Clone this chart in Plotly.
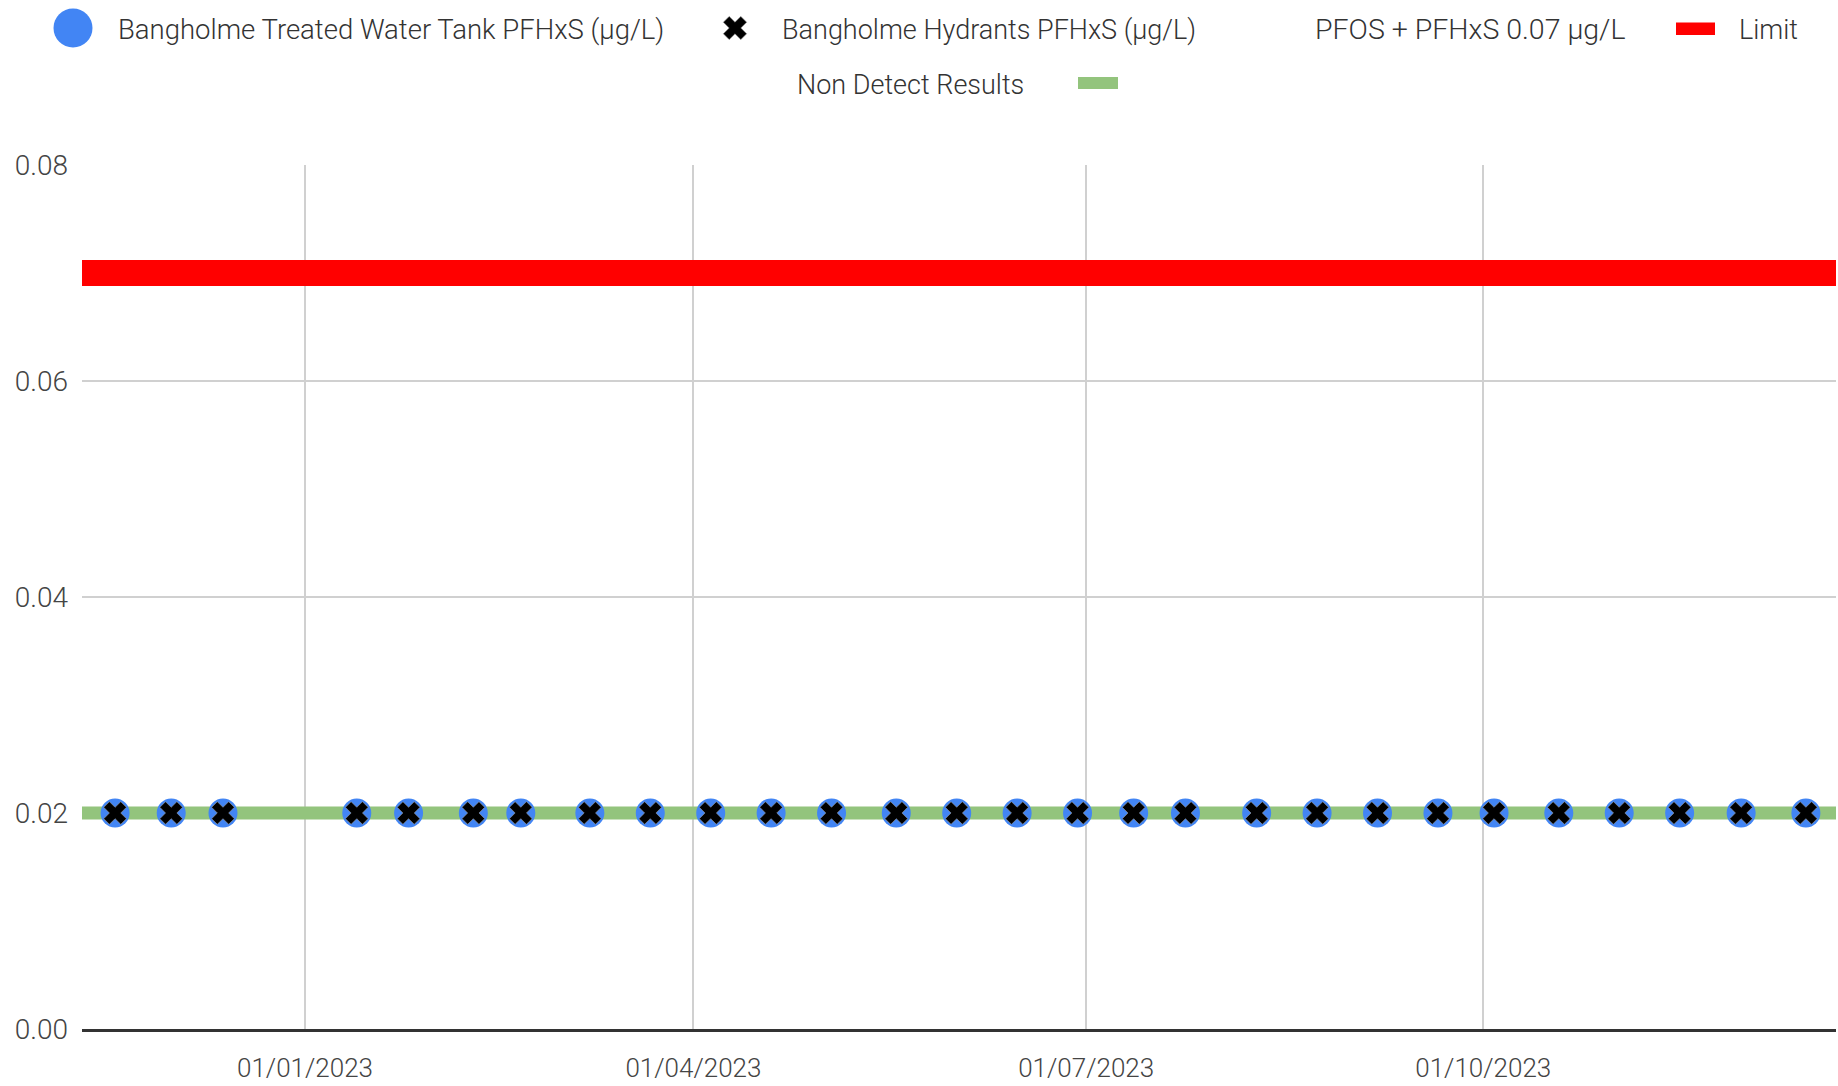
import plotly.graph_objects as go

# ---------------- data ----------------
sample_dates = [
    "2022-11-18", "2022-12-01", "2022-12-13", "2023-01-13", "2023-01-25",
    "2023-02-09", "2023-02-20", "2023-03-08", "2023-03-22", "2023-04-05",
    "2023-04-19", "2023-05-03", "2023-05-18", "2023-06-01", "2023-06-15",
    "2023-06-29", "2023-07-12", "2023-07-24", "2023-08-09 12:00", "2023-08-23 12:00",
    "2023-09-06 12:00", "2023-09-20 12:00", "2023-10-03 12:00", "2023-10-18 12:00",
    "2023-11-01 12:00", "2023-11-15 12:00", "2023-11-29 18:00", "2023-12-14 18:00",
]
tank_pfhxs = [0.02] * 28          # Bangholme Treated Water Tank PFHxS (µg/L)
hydrant_pfhxs = [0.02] * 28       # Bangholme Hydrants PFHxS (µg/L)
line_dates = ["2022-11-01", "2023-12-31"]
limit_values = [0.07, 0.07]       # PFOS + PFHxS 0.07 µg/L limit
non_detect_values = [0.02, 0.02]  # Non Detect Results

series_names = [
    "Bangholme Treated Water Tank PFHxS (µg/L)",
    "Bangholme Hydrants PFHxS (µg/L)",
    "PFOS + PFHxS 0.07 µg/L",
    "Limit",
    "Non Detect Results",
]
x_tick_vals = ["2023-01-01", "2023-04-01", "2023-07-01", "2023-10-01"]
x_range = ["2022-11-10 08:00", "2023-12-21 17:30"]
y_tick_vals = [0.0, 0.02, 0.04, 0.06, 0.08]

# ---------------- layout constants ----------------
W, H = 1838, 1086
L, R, T, B = 82, 2, 165, 57
PW, PH = W - L - R, H - T - B
FONT = "Roboto, Arial, sans-serif"
BLUE, RED, GREEN = "#4285F4", "#FF0000", "#93C47D"


def px_x(px):
    return (px - L) / PW


def px_y(py):
    return (H - B - py) / PH


fig = go.Figure()
fig.add_trace(go.Scatter(x=line_dates, y=non_detect_values, mode="lines",
                         line=dict(color=GREEN, width=13), name=series_names[4],
                         showlegend=False))
fig.add_trace(go.Scatter(x=line_dates, y=limit_values, mode="lines",
                         line=dict(color=RED, width=26), name=series_names[3],
                         showlegend=False))
fig.add_trace(go.Scatter(x=sample_dates, y=tank_pfhxs, mode="markers",
                         marker=dict(color=BLUE, size=29, line=dict(width=0)),
                         name=series_names[0], showlegend=False))
fig.add_trace(go.Scatter(x=sample_dates, y=hydrant_pfhxs, mode="markers",
                         marker=dict(color="black", size=20, symbol="x",
                                     line=dict(color="#999999", width=0.6)),
                         name=series_names[1], showlegend=False))

# ---------------- custom legend ----------------
shapes = []
annotations = []
row1, row2 = 29.5, 84.5
# blue circle
shapes.append(dict(type="circle", xref="paper", yref="paper",
                   xsizemode="pixel", ysizemode="pixel",
                   xanchor=px_x(73), yanchor=px_y(28),
                   x0=-19.5, x1=19.5, y0=-19.5, y1=19.5,
                   fillcolor=BLUE, line=dict(width=0)))
# black X
rx = 5.8
xpath = ("M0,{a} L{a},{b} L{b},{a} L{a},0 L{b},-{a} L{a},-{b} L0,-{a} "
         "L-{a},-{b} L-{b},-{a} L-{a},0 L-{b},{a} L-{a},{b} Z").format(a=rx, b=2 * rx)
shapes.append(dict(type="path", xref="paper", yref="paper",
                   xsizemode="pixel", ysizemode="pixel",
                   xanchor=px_x(735), yanchor=px_y(28), path=xpath,
                   fillcolor="black", line=dict(color="#777777", width=0.6)))
# red rect
shapes.append(dict(type="rect", xref="paper", yref="paper",
                   x0=px_x(1676), x1=px_x(1715), y0=px_y(35), y1=px_y(22.5),
                   fillcolor=RED, line=dict(width=0)))
# green rect
shapes.append(dict(type="rect", xref="paper", yref="paper",
                   x0=px_x(1078), x1=px_x(1118), y0=px_y(89), y1=px_y(77),
                   fillcolor=GREEN, line=dict(width=0)))

legend_text_pos = [(116, row1), (780, row1), (1313, row1), (1737, row1), (795, row2)]
legend_sizes = [27.5, 27, 28.5, 27, 27]
for (tx, ty), name, fs in zip(legend_text_pos, series_names, legend_sizes):
    annotations.append(dict(text=name, xref="paper", yref="paper",
                            x=px_x(tx), y=px_y(ty), xanchor="left", yanchor="middle",
                            showarrow=False,
                            font=dict(family=FONT, size=fs, color="#333333", weight=300)))

fig.update_layout(
    width=W, height=H,
    margin=dict(l=L, r=R, t=T, b=B, pad=0),
    paper_bgcolor="white", plot_bgcolor="white",
    showlegend=False,
    shapes=shapes, annotations=annotations,
    font=dict(family=FONT, size=26, color="#444444"),
    xaxis=dict(type="date", range=x_range, tickvals=x_tick_vals, tickformat="%d/%m/%Y",
               showgrid=True, gridcolor="#D0D0D0", gridwidth=2,
               showline=True, linecolor="#333333", linewidth=3,
               ticks="", zeroline=False, ticklabelstandoff=14,
               tickfont=dict(family=FONT, size=26, color="#444444", weight=300)),
    yaxis=dict(range=[0, 0.08], tickvals=y_tick_vals, tickformat=".2f",
               showgrid=True, gridcolor="#D0D0D0", gridwidth=2,
               ticks="", zeroline=False, showline=False, ticklabelstandoff=13,
               tickfont=dict(family=FONT, size=28, color="#444444", weight=300)),
)

fig.write_html("out.html", include_plotlyjs=True, full_html=True,
               config={"displayModeBar": False},
               post_script="document.body.style.margin='0';document.body.style.overflow='hidden';")
